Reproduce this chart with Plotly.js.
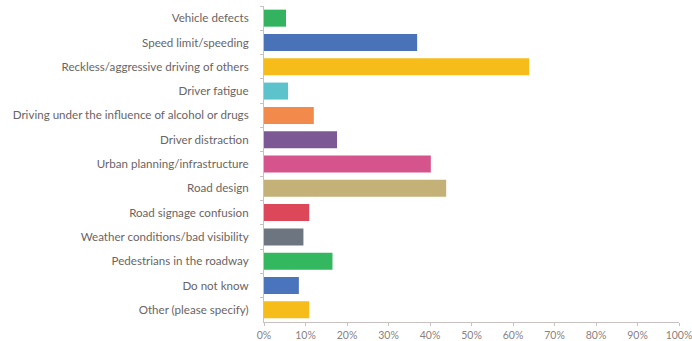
<!DOCTYPE html>
<html>
<head>
<meta charset="utf-8">
<script src="https://cdn.plot.ly/plotly-3.0.1.min.js"></script>
<style>html,body{margin:0;padding:0;background:#fff;}#chart{width:692px;height:341px;}</style>
</head>
<body>
<div id="chart"></div>
<script>
const categories = [
  "Vehicle defects",
  "Speed limit/speeding",
  "Reckless/aggressive driving of others",
  "Driver fatigue",
  "Driving under the influence of alcohol or drugs",
  "Driver distraction",
  "Urban planning/infrastructure",
  "Road design",
  "Road signage confusion",
  "Weather conditions/bad visibility",
  "Pedestrians in the roadway",
  "Do not know",
  "Other (please specify)"
];
const values = [0.053, 0.369, 0.639, 0.058, 0.120, 0.176, 0.402, 0.439, 0.109, 0.095, 0.165, 0.084, 0.109];
const barColors = ["#33b25f", "#4a72b8", "#f6bc1a", "#5cc3cd", "#f28a4c", "#7c5994", "#d4548b", "#c4b178", "#dc4859", "#6d7680", "#33b75f", "#4a74bb", "#f6bc1a"];
const xTickVals = [0, 0.1, 0.2, 0.3, 0.4, 0.5, 0.6, 0.7, 0.8, 0.9, 1.0];
const xTickText = ["0%", "10%", "20%", "30%", "40%", "50%", "60%", "70%", "80%", "90%", "100%"];

const trace = {
  type: "bar",
  orientation: "h",
  x: values,
  y: categories,
  marker: { color: barColors },
  hoverinfo: "x+y"
};

const layout = {
  width: 692,
  height: 341,
  margin: { l: 264, r: 13, t: 6, b: 19 },
  paper_bgcolor: "#ffffff",
  plot_bgcolor: "#ffffff",
  bargap: 0.3,
  showlegend: false,
  font: { family: "Lato, 'Open Sans', sans-serif", size: 11.6, color: "#6b6463" },
  xaxis: {
    range: [0, 1.0],
    tickvals: xTickVals,
    ticktext: xTickText,
    showgrid: false,
    zeroline: false,
    showline: true,
    linecolor: "#c9c1c0",
    linewidth: 1,
    ticks: "outside",
    ticklen: 3,
    tickcolor: "#c9c1c0",
    ticklabeloverflow: "allow",
    tickfont: { size: 10.5, color: "#8a8180" },
    fixedrange: true
  },
  yaxis: {
    type: "category",
    autorange: "reversed",
    showgrid: false,
    zeroline: false,
    showline: true,
    linecolor: "#c9c1c0",
    linewidth: 1,
    ticks: "outside",
    tickson: "boundaries",
    ticklen: 3,
    tickcolor: "#c9c1c0",
    ticklabelstandoff: 12,
    tickfont: { size: 11.6, color: "#6b6463" },
    fixedrange: true
  }
};

Plotly.newPlot("chart", [trace], layout, { displayModeBar: false, staticPlot: true });
</script>
</body>
</html>
